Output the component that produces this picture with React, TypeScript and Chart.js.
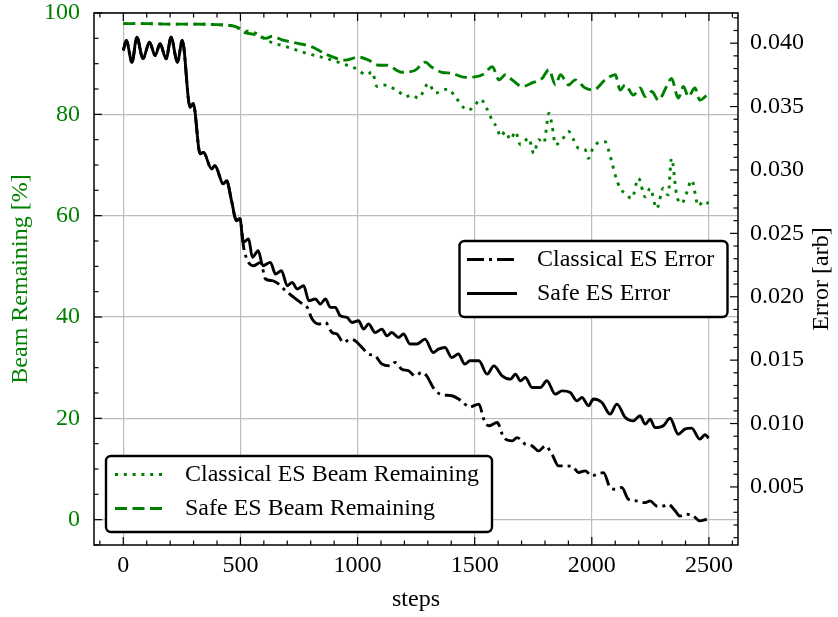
import React, { useEffect, useRef } from 'react';
import { Chart, registerables } from 'chart.js';

Chart.register(...registerables);

const FONT = "'Liberation Serif', 'Times New Roman', serif";
const GREEN = '#008000';

// ---- axis ticks ----
const X_TICKS = [0, 500, 1000, 1500, 2000, 2500];
const BEAM_TICKS = [0, 20, 40, 60, 80, 100];
const ERR_TICKS = [0.005, 0.01, 0.015, 0.02, 0.025, 0.03, 0.035, 0.04];
const ERR_TICK_LABELS = ['0.005', '0.010', '0.015', '0.020', '0.025', '0.030', '0.035', '0.040'];

// ---- Safe ES Error (right axis) ----
const SAFE_ERR_STEPS = [0, 13, 37, 58, 84, 112, 136, 157, 183, 204, 231, 252, 285, 299, 328, 342, 377, 391, 427, 441, 462, 483, 498, 512, 535, 551, 576, 596, 628, 650, 675, 700, 721, 742, 770, 792, 820, 841, 863, 884, 905, 926, 955, 976, 1004, 1026, 1047, 1075, 1104, 1125, 1146, 1175, 1196, 1224, 1253, 1288, 1323, 1345, 1373, 1402, 1430, 1458, 1480, 1518, 1553, 1582, 1617, 1653, 1674, 1695, 1716, 1745, 1780, 1808, 1844, 1873, 1908, 1936, 1958, 1986, 2007, 2043, 2078, 2107, 2143, 2177, 2206, 2228, 2249, 2270, 2305, 2334, 2369, 2397, 2426, 2461, 2483, 2499];
const SAFE_ERR = [0.03942, 0.04021, 0.0385, 0.04047, 0.03877, 0.04008, 0.03903, 0.03995, 0.03877, 0.04047, 0.0385, 0.04021, 0.03495, 0.03522, 0.03127, 0.03139, 0.03008, 0.03034, 0.0289, 0.02916, 0.02758, 0.026, 0.02616, 0.02429, 0.02456, 0.02311, 0.02363, 0.02245, 0.02271, 0.02179, 0.02205, 0.02087, 0.02113, 0.02061, 0.02087, 0.01969, 0.01982, 0.01943, 0.01982, 0.01916, 0.01916, 0.0185, 0.01837, 0.01797, 0.01811, 0.01745, 0.01785, 0.01718, 0.01745, 0.01692, 0.01718, 0.01679, 0.01706, 0.01627, 0.01627, 0.01666, 0.0156, 0.01587, 0.016, 0.01521, 0.01548, 0.01469, 0.01495, 0.01495, 0.0139, 0.01455, 0.01376, 0.0135, 0.0139, 0.01337, 0.01363, 0.01284, 0.01284, 0.01337, 0.01232, 0.01258, 0.01245, 0.01179, 0.01205, 0.0114, 0.01193, 0.01166, 0.01074, 0.01153, 0.01047, 0.01021, 0.01061, 0.00995, 0.01034, 0.00968, 0.00982, 0.01042, 0.00916, 0.00956, 0.00964, 0.00877, 0.00911, 0.00885];

// ---- Classical ES Error (right axis) ----
const CLASSIC_ERR_STEPS = [0, 13, 37, 58, 84, 112, 136, 157, 183, 204, 231, 252, 285, 299, 328, 342, 377, 391, 427, 441, 462, 483, 498, 515, 557, 586, 607, 636, 664, 692, 728, 756, 785, 806, 834, 863, 891, 912, 940, 969, 990, 1019, 1047, 1075, 1104, 1139, 1160, 1189, 1218, 1246, 1274, 1295, 1323, 1352, 1402, 1444, 1477, 1518, 1539, 1560, 1596, 1624, 1660, 1681, 1716, 1745, 1773, 1802, 1830, 1858, 1894, 1922, 1943, 1972, 2000, 2021, 2050, 2078, 2100, 2128, 2156, 2191, 2228, 2249, 2277, 2305, 2326, 2356, 2376, 2404, 2433, 2461, 2491];
const CLASSIC_ERR = [0.03942, 0.04021, 0.0385, 0.04047, 0.03877, 0.04008, 0.03903, 0.03995, 0.03877, 0.04047, 0.0385, 0.04021, 0.03495, 0.03522, 0.03127, 0.03139, 0.03008, 0.03034, 0.0289, 0.02916, 0.02758, 0.026, 0.02616, 0.02377, 0.02245, 0.02271, 0.0214, 0.02127, 0.021, 0.02048, 0.01995, 0.01955, 0.01916, 0.01824, 0.01785, 0.01797, 0.01718, 0.01706, 0.01639, 0.01666, 0.01653, 0.016, 0.01548, 0.01534, 0.01469, 0.01455, 0.01482, 0.01429, 0.01416, 0.01376, 0.01403, 0.01376, 0.01284, 0.01232, 0.01219, 0.01179, 0.0113, 0.01153, 0.01034, 0.00982, 0.01008, 0.00889, 0.00863, 0.00889, 0.00837, 0.00824, 0.00784, 0.00824, 0.00758, 0.00666, 0.00666, 0.00653, 0.00613, 0.00627, 0.00587, 0.006, 0.00613, 0.00495, 0.00482, 0.00495, 0.00403, 0.0039, 0.00376, 0.0039, 0.0035, 0.0035, 0.00363, 0.00311, 0.00271, 0.00285, 0.00271, 0.00232, 0.00245];

// ---- Safe ES Beam Remaining (left axis, %) ----
const SAFE_BEAM_STEPS = [0, 100, 200, 300, 400, 480, 509, 566, 608, 636, 678, 735, 806, 863, 948, 1004, 1047, 1090, 1125, 1189, 1246, 1288, 1317, 1360, 1402, 1459, 1501, 1540, 1575, 1604, 1631, 1660, 1703, 1745, 1788, 1817, 1845, 1866, 1901, 1929, 1972, 2007, 2057, 2100, 2121, 2142, 2178, 2206, 2228, 2256, 2284, 2319, 2340, 2369, 2391, 2412, 2440, 2461, 2489];
const SAFE_BEAM = [97.9, 97.9, 97.8, 97.8, 97.7, 97.3, 96.3, 95.7, 95.0, 95.4, 94.7, 94.1, 93.3, 91.9, 90.7, 91.3, 90.7, 89.7, 89.7, 88.3, 88.7, 90.3, 89.3, 88.3, 88.1, 87.3, 87.4, 88.0, 89.4, 86.8, 87.8, 86.8, 85.5, 86.2, 87.1, 88.8, 85.8, 87.8, 85.8, 86.8, 85.2, 84.8, 86.8, 87.8, 84.8, 85.8, 83.8, 85.2, 83.5, 84.5, 82.8, 85.5, 87.1, 83.2, 85.5, 83.5, 85.2, 82.8, 83.7];

// ---- Classical ES Beam Remaining (left axis, %) ----
const CLASSIC_BEAM_STEPS = [0, 100, 200, 300, 400, 480, 520, 566, 622, 693, 778, 863, 948, 990, 1040, 1062, 1083, 1111, 1175, 1204, 1232, 1260, 1303, 1331, 1388, 1416, 1472, 1501, 1525, 1553, 1575, 1596, 1610, 1631, 1653, 1674, 1695, 1731, 1752, 1773, 1795, 1817, 1830, 1845, 1873, 1901, 1922, 1943, 1972, 1986, 2007, 2057, 2071, 2086, 2100, 2121, 2142, 2171, 2199, 2228, 2249, 2277, 2305, 2326, 2340, 2362, 2383, 2404, 2426, 2455, 2476, 2499];
const CLASSIC_BEAM = [97.9, 97.9, 97.8, 97.8, 97.7, 97.3, 96.5, 96.0, 94.4, 93.4, 92.1, 91.1, 89.8, 89.1, 87.8, 88.4, 85.5, 85.8, 84.5, 83.5, 83.8, 83.2, 86.1, 84.2, 85.0, 83.5, 80.8, 81.8, 83.0, 81.0, 78.8, 77.3, 75.6, 76.6, 75.0, 76.6, 74.0, 75.3, 72.3, 75.0, 74.3, 80.2, 77.9, 74.0, 75.0, 76.6, 75.0, 73.3, 73.0, 71.3, 73.6, 74.6, 73.0, 70.5, 68.0, 65.4, 64.4, 63.4, 67.4, 63.7, 65.4, 61.4, 65.4, 64.1, 71.3, 64.1, 62.4, 64.4, 67.0, 61.9, 62.9, 62.4];

const LW = 2.9;
const DASH_DOT = [17, 5, 3, 5];
const DASHED = [12, 5.5];
const DOTTED = [3, 5.8];

const pts = (xs: number[], ys: number[]) => xs.map((x, i) => ({ x, y: ys[i] }));

const ERR_SERIES = [
  { label: 'Classical ES Error', color: '#000', dash: DASH_DOT, steps: CLASSIC_ERR_STEPS, values: CLASSIC_ERR },
  { label: 'Safe ES Error', color: '#000', dash: [] as number[], steps: SAFE_ERR_STEPS, values: SAFE_ERR },
];
const BEAM_SERIES = [
  { label: 'Classical ES Beam Remaining', color: GREEN, dash: DOTTED, steps: CLASSIC_BEAM_STEPS, values: CLASSIC_BEAM },
  { label: 'Safe ES Beam Remaining', color: GREEN, dash: DASHED, steps: SAFE_BEAM_STEPS, values: SAFE_BEAM },
];

function drawLegend(ctx: CanvasRenderingContext2D, box: { x: number; y: number; w: number; h: number }, entries: any[], sx1: number, sx2: number, tx: number, rowY: number[]) {
  ctx.save();
  ctx.beginPath();
  (ctx as any).roundRect(box.x, box.y, box.w, box.h, 5);
  ctx.fillStyle = '#ffffff';
  ctx.fill();
  ctx.setLineDash([]);
  ctx.lineWidth = 2.4;
  ctx.strokeStyle = '#000';
  ctx.stroke();
  entries.forEach((e, i) => {
    const y = rowY[i];
    ctx.beginPath();
    ctx.setLineDash(e.dash);
    ctx.strokeStyle = e.color;
    ctx.lineWidth = LW;
    ctx.lineCap = 'butt';
    ctx.moveTo(sx1, y);
    ctx.lineTo(sx2, y);
    ctx.stroke();
    ctx.setLineDash([]);
    ctx.fillStyle = '#000';
    ctx.font = `24px ${FONT}`;
    ctx.textBaseline = 'middle';
    ctx.textAlign = 'left';
    ctx.fillText(e.label, tx, y);
  });
  ctx.restore();
}

const decorPlugin = {
  id: 'decor',
  afterDraw(chart: any) {
    const { ctx, chartArea: a, scales } = chart;
    const xs = scales.x, yl = scales.y, yr = scales.y2;
    const MAJ = 8, MIN = 4.5;
    ctx.save();
    ctx.strokeStyle = '#000';
    ctx.lineWidth = 1.2;
    ctx.setLineDash([]);
    const line = (x1: number, y1: number, x2: number, y2: number) => {
      ctx.beginPath(); ctx.moveTo(x1, y1); ctx.lineTo(x2, y2); ctx.stroke();
    };
    // x ticks (bottom and top), minor every 100
    for (let v = -100; v <= 2600; v += 100) {
      const p = xs.getPixelForValue(v);
      const L = X_TICKS.includes(v) ? MAJ : MIN;
      line(p, a.bottom, p, a.bottom - L);
      line(p, a.top, p, a.top + L);
    }
    // left ticks, minor every 5
    for (let v = -5; v <= 100; v += 5) {
      const p = yl.getPixelForValue(v);
      const L = BEAM_TICKS.includes(v) ? MAJ : MIN;
      line(a.left, p, a.left + L, p);
    }
    // right ticks, minor every 0.001
    for (let i = 1; i <= 42; i++) {
      const p = yr.getPixelForValue(i / 1000);
      const L = i % 5 === 0 ? MAJ : MIN;
      line(a.right, p, a.right - L, p);
    }
    // frame
    ctx.lineWidth = 1.5;
    ctx.strokeRect(a.left, a.top, a.right - a.left, a.bottom - a.top);

    // axis titles
    ctx.font = `24px ${FONT}`;
    ctx.textAlign = 'center';
    ctx.fillStyle = '#000';
    ctx.textBaseline = 'alphabetic';
    ctx.fillText('steps', (a.left + a.right) / 2, 606);
    ctx.textBaseline = 'middle';
    const cy = (a.top + a.bottom) / 2;
    ctx.save();
    ctx.translate(21, cy);
    ctx.rotate(-Math.PI / 2);
    ctx.fillStyle = GREEN;
    ctx.fillText('Beam Remaining [%]', 0, 0);
    ctx.restore();
    ctx.save();
    ctx.translate(821.5, cy);
    ctx.rotate(-Math.PI / 2);
    ctx.fillStyle = '#000';
    ctx.fillText('Error [arb]', 0, 0);
    ctx.restore();
    ctx.restore();

    // legends
    drawLegend(ctx, { x: 459.5, y: 241, w: 268, h: 76 }, ERR_SERIES, 467, 517, 537, [259.5, 293.5]);
    drawLegend(ctx, { x: 106, y: 456, w: 386, h: 76 }, BEAM_SERIES, 115, 165, 185, [474.5, 508.5]);
  },
};

export default function App() {
  const ref = useRef<HTMLCanvasElement | null>(null);
  useEffect(() => {
    if (!ref.current) return;
    const tickFont = { family: FONT, size: 24 };
    const zeroPad = (s: any) => { s.paddingTop = 0; s.paddingBottom = 0; s.paddingLeft = 0; s.paddingRight = 0; };
    const datasets: any[] = [
      ...ERR_SERIES.map((s) => ({
        label: s.label, data: pts(s.steps, s.values), yAxisID: 'y2',
        borderColor: s.color, borderDash: s.dash, borderWidth: LW,
        pointRadius: 0, fill: false, cubicInterpolationMode: 'monotone',
      })),
      ...BEAM_SERIES.map((s) => ({
        label: s.label, data: pts(s.steps, s.values), yAxisID: 'y',
        borderColor: s.color, borderDash: s.dash, borderWidth: LW,
        pointRadius: 0, fill: false, cubicInterpolationMode: 'monotone',
      })),
    ];
    const chart = new Chart(ref.current, {
      type: 'line',
      data: { datasets },
      options: {
        animation: false,
        responsive: true,
        maintainAspectRatio: false,
        layout: { padding: { top: 13, left: 0, right: 0, bottom: 0 } },
        plugins: { legend: { display: false }, tooltip: { enabled: false } },
        elements: { line: { borderCapStyle: 'butt', borderJoinStyle: 'round' } },
        scales: {
          x: {
            type: 'linear', position: 'bottom', min: -125, max: 2624,
            afterBuildTicks: (s: any) => { s.ticks = X_TICKS.map((v) => ({ value: v })); },
            afterFit: (s: any) => { s.height = 72; zeroPad(s); },
            ticks: { font: tickFont, color: '#000', padding: 6, maxRotation: 0, autoSkip: false, callback: (v: any) => String(v) },
            grid: { color: '#bdbdbd', lineWidth: 1.2, drawTicks: false },
            border: { display: false },
          },
          y: {
            type: 'linear', position: 'left', min: -5, max: 100,
            afterBuildTicks: (s: any) => { s.ticks = BEAM_TICKS.map((v) => ({ value: v })); },
            afterFit: (s: any) => { s.width = 94; zeroPad(s); },
            ticks: { font: tickFont, color: GREEN, padding: 14, autoSkip: false, callback: (v: any) => String(v) },
            grid: { color: '#bdbdbd', lineWidth: 1.2, drawTicks: false },
            border: { display: false },
          },
          y2: {
            type: 'linear', position: 'right', min: 0.00042, max: 0.04238,
            afterBuildTicks: (s: any) => { s.ticks = ERR_TICKS.map((v) => ({ value: v })); },
            afterFit: (s: any) => { s.width = 100; zeroPad(s); },
            ticks: { font: tickFont, color: '#000', padding: 12, autoSkip: false, callback: (v: any) => ERR_TICK_LABELS[ERR_TICKS.indexOf(v)] ?? Number(v).toFixed(3) },
            grid: { display: false, drawTicks: false },
            border: { display: false },
          },
        },
      } as any,
      plugins: [decorPlugin],
    });
    return () => chart.destroy();
  }, []);
  return (
    <div style={{ position: 'absolute', left: 0, top: 0, width: 838, height: 617, background: '#fff' }}>
      <canvas ref={ref} />
    </div>
  );
}
